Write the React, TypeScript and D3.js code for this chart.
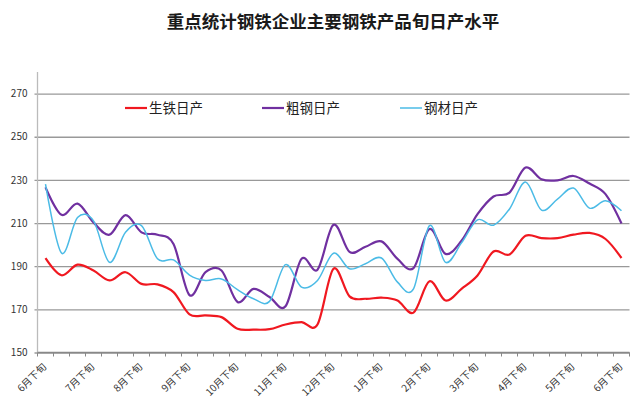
import { useRef, useEffect } from "react";
import * as d3 from "d3";

// dekads from late June to late June of the next year
const categories = [
  "6月下旬",
  "7月上旬", "7月中旬", "7月下旬",
  "8月上旬", "8月中旬", "8月下旬",
  "9月上旬", "9月中旬", "9月下旬",
  "10月上旬", "10月中旬", "10月下旬",
  "11月上旬", "11月中旬", "11月下旬",
  "12月上旬", "12月中旬", "12月下旬",
  "1月上旬", "1月中旬", "1月下旬",
  "2月上旬", "2月中旬", "2月下旬",
  "3月上旬", "3月中旬", "3月下旬",
  "4月上旬", "4月中旬", "4月下旬",
  "5月上旬", "5月中旬", "5月下旬",
  "6月上旬", "6月中旬", "6月下旬",
];

const pigIron = [
  193.7, 185.8, 190.7, 188, 183.4, 187.2, 181.8, 181.6, 178, 167.7,
  167.2, 166.4, 161, 160.6, 160.8, 163, 164.1, 163, 188.8, 176,
  174.9, 175.4, 174.1, 168.5, 183, 174.1, 179.5, 185.7, 196.8, 195.4,
  204.1, 203, 203, 204.6, 205.4, 202.6, 193.8,
];

const crudeSteel = [
  226.5, 213.8, 219, 210.3, 204.6, 213.7, 205.7, 204.6, 200.3, 176.6,
  187.2, 188, 173.4, 179.5, 175.7, 171.4, 193.4, 188.4, 209.2, 196.6,
  199, 201.5, 193.4, 189.1, 207.2, 195.7, 201.8, 214.1, 222.3, 224.1,
  235.7, 230.3, 229.8, 231.8, 228.3, 223.4, 209.8,
];

const steelProducts = [
  228, 196.1, 212.6, 211, 191.8, 205.7, 208.8, 193.4, 192.9, 185.9,
  183.4, 184.1, 179.1, 174.9, 173.7, 190.7, 180.3, 183.4, 196, 188.8,
  191.1, 193.8, 182.6, 179.5, 208.8, 191.8, 200.8, 211.5, 209, 216.5,
  229, 216, 221.1, 226.2, 216.9, 220.3, 215.7,
];

const yTicks = [150, 170, 190, 210, 230, 250, 270];

const series = [
  { name: "生铁日产", values: pigIron, color: "#f01820", width: 2.2, legendX: 125 },
  { name: "粗钢日产", values: crudeSteel, color: "#7030a0", width: 2.2, legendX: 262 },
  { name: "钢材日产", values: steelProducts, color: "#4bbbe6", width: 1.5, legendX: 400 },
];

const width = 640;
const height = 400;
const plot = { left: 37.5, right: 629.5, top: 72, bottom: 352.5 };
const font = "'Noto Sans CJK SC', 'Noto Sans', sans-serif";

const App = () => {
  const svgRef = useRef(null);

  useEffect(() => {
    const svg = d3.select(svgRef.current);
    svg.selectAll("*").remove();

    // categories repeat (6月下旬 twice), so the band scale is keyed by index
    const x = d3
      .scaleBand()
      .domain(d3.range(categories.length))
      .range([plot.left, plot.right]);
    const cx = (i) => x(i) + x.bandwidth() / 2;

    const y = d3
      .scaleLinear()
      .domain([150, 280])
      .range([plot.bottom, plot.top]);

    // title
    svg
      .append("text")
      .attr("x", 333)
      .attr("y", 28)
      .attr("text-anchor", "middle")
      .attr("font-family", font)
      .attr("font-size", 17.5)
      .attr("font-weight", "bold")
      .attr("fill", "#1a1a1a")
      .text("重点统计钢铁企业主要钢铁产品旬日产水平");

    // gridlines + y labels
    const gy = svg
      .append("g")
      .attr("transform", `translate(${plot.left},0)`)
      .call(
        d3
          .axisLeft(y)
          .tickValues(yTicks)
          .tickSize(-(plot.right - plot.left))
          .tickPadding(10)
      );
    gy.select(".domain").remove();
    gy.selectAll(".tick line")
      .attr("stroke", "#999")
      .attr("stroke-width", 1.3)
      .attr("x1", -3);
    gy.selectAll(".tick text")
      .attr("font-family", font)
      .attr("font-size", 10)
      .attr("fill", "#333");

    // y axis line
    svg
      .append("line")
      .attr("x1", plot.left)
      .attr("x2", plot.left)
      .attr("y1", plot.top)
      .attr("y2", plot.bottom)
      .attr("stroke", "#bbb")
      .attr("stroke-width", 1.3);

    // x axis line and tick marks at category boundaries
    svg
      .append("line")
      .attr("x1", plot.left)
      .attr("x2", plot.right)
      .attr("y1", plot.bottom)
      .attr("y2", plot.bottom)
      .attr("stroke", "#888")
      .attr("stroke-width", 1.3);

    const bounds = categories.map((c, i) => x(i)).concat([plot.right]);
    svg
      .append("g")
      .selectAll("line")
      .data(bounds)
      .enter()
      .append("line")
      .attr("x1", (d) => d)
      .attr("x2", (d) => d)
      .attr("y1", plot.bottom)
      .attr("y2", plot.bottom + 4)
      .attr("stroke", "#888")
      .attr("stroke-width", 1);

    // x labels, every third dekad
    svg
      .append("g")
      .selectAll("text")
      .data(categories.map((c, i) => ({ c, i })).filter((d) => d.i % 3 === 0))
      .enter()
      .append("text")
      .attr("transform", (d) => `translate(${cx(d.i) - 1},365) rotate(-45)`)
      .attr("text-anchor", "end")
      .attr("dy", "0.35em")
      .attr("font-family", font)
      .attr("font-size", 10)
      .attr("fill", "#333")
      .text((d) => d.c);

    // lines
    const line = d3
      .line()
      .x((d, i) => cx(i))
      .y((d) => y(d))
      .curve(d3.curveCardinal.tension(0));

    series.forEach((s) => {
      svg
        .append("path")
        .datum(s.values)
        .attr("d", line)
        .attr("fill", "none")
        .attr("stroke", s.color)
        .attr("stroke-width", s.width)
        .attr("stroke-linejoin", "round");
    });

    // legend
    const lg = svg
      .append("g")
      .selectAll("g")
      .data(series)
      .enter()
      .append("g")
      .attr("transform", (d) => `translate(${d.legendX},108)`);
    lg.append("line")
      .attr("x1", 0)
      .attr("x2", 22)
      .attr("stroke", (d) => d.color)
      .attr("stroke-width", (d) => d.width);
    lg.append("text")
      .attr("x", 24)
      .attr("dy", "0.35em")
      .attr("font-family", font)
      .attr("font-size", 13.5)
      .attr("fill", "#222")
      .text((d) => d.name);
  }, []);

  return (
    <svg
      ref={svgRef}
      width={width}
      height={height}
      style={{ position: "absolute", left: 0, top: 0, background: "#fff" }}
    ></svg>
  );
};

export default App;
